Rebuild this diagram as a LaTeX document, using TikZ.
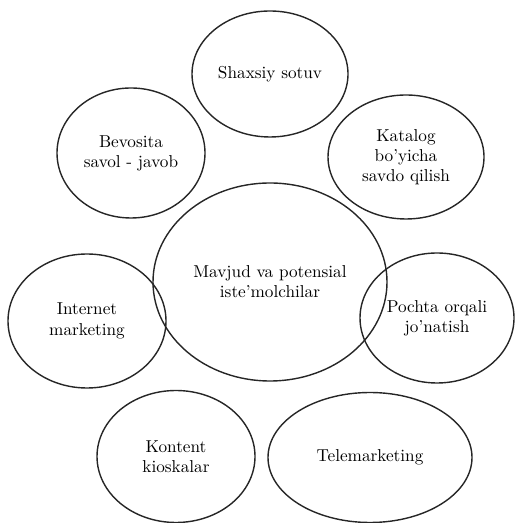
\documentclass[tikz,border=0pt]{standalone}
\usetikzlibrary{shapes.geometric}

\begin{document}
\begin{tikzpicture}[
  oval/.style={ellipse,draw=black!85,line width=0.8pt,inner sep=0pt,
    align=center,font=\fontsize{9.8}{11.5}\selectfont}]
  \useasboundingbox (0,0) rectangle (10.28,10.46);
  % centre
  \node[oval,minimum width=4.68cm,minimum height=3.96cm] (markaz) at (5.40,4.82)
    {Mavjud va potensial\\iste'molchilar};
  % upper ring
  \node[oval,minimum width=3.12cm,minimum height=2.52cm] (shaxsiy) at (5.40,8.98)
    {Shaxsiy sotuv};
  \node[oval,minimum width=2.96cm,minimum height=2.60cm] (bevosita) at (2.62,7.40)
    {Bevosita\\savol - javob};
  \node[oval,minimum width=3.12cm,minimum height=2.48cm] (katalog) at (8.12,7.32)
    {Katalog\\bo'yicha\\savdo qilish};
  % sides
  \node[oval,minimum width=3.16cm,minimum height=2.68cm] (internet) at (1.74,4.04)
    {Internet\\marketing};
  \node[oval,minimum width=3.08cm,minimum height=2.60cm] (pochta) at (8.74,4.10)
    {Pochta orqali\\jo'natish};
  % bottom row
  \node[oval,minimum width=3.16cm,minimum height=2.64cm] (kontent) at (3.52,1.33)
    {Kontent\\kioskalar};
  \node[oval,minimum width=4.08cm,minimum height=2.60cm] (tele) at (7.40,1.31)
    {Telemarketing};
\end{tikzpicture}
\end{document}
